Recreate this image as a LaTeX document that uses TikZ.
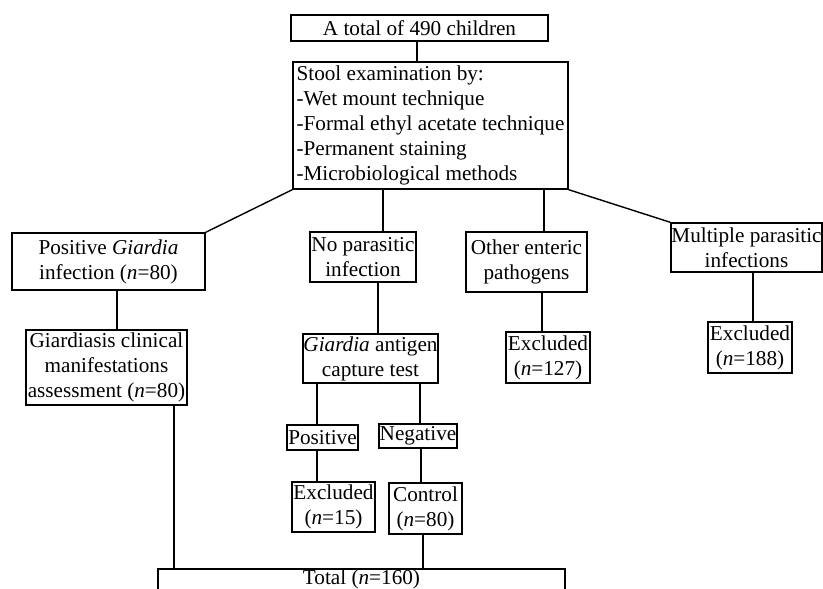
\documentclass[tikz,border=0pt]{standalone}
\usepackage{fontspec}
\setmainfont{Liberation Serif}
\usetikzlibrary{positioning}

\tikzset{
  box/.style={draw, line width=1.4pt, inner sep=0pt, align=center},
  link/.style={line width=1.4pt},
}

\begin{document}
\begin{tikzpicture}[x=1pt, y=-1pt, font=\fontsize{21.2}{25}\selectfont]
\useasboundingbox (0,0) rectangle (823,589);
%
\node[box, minimum width=257, minimum height=26] (tot) at (419.5,28) {A total of 490 children};
\node[box, minimum width=275, minimum height=127, align=left] (stool) at (430.5,125.5)
  {Stool examination by:\\-Wet mount technique\\-Formal ethyl acetate technique\\-Permanent staining\\-Microbiological methods};
%
\node[box, minimum width=193, minimum height=57] (pos) at (108.5,261.5) {Positive \textit{Giardia}\\infection (\textit{n}=80)};
\node[box, minimum width=106, minimum height=50] (nopar) at (363,257) {No parasitic\\infection};
\node[box, minimum width=121, minimum height=60] (other) at (526.5,262) {Other enteric\\pathogens};
\node[box, minimum width=151, minimum height=49] (multi) at (746.5,247.5) {Multiple parasitic\\infections};
%
\node[box, minimum width=161, minimum height=75] (clin) at (106.5,367.5) {Giardiasis clinical\\manifestations\\assessment (\textit{n}=80)};
\node[box, minimum width=135, minimum height=49] (antig) at (370.5,358.5) {\textit{Giardia} antigen\\capture test};
\node[box, minimum width=84, minimum height=51] (excla) at (548,357.5) {Excluded\\(\textit{n}=127)};
\node[box, minimum width=84, minimum height=51] (exclb) at (750,347.5) {Excluded\\(\textit{n}=188)};
%
\node[box, minimum width=71, minimum height=25] (apos) at (322.5,437.5) {Positive};
\node[box, minimum width=78, minimum height=24] (aneg) at (418,436) {Negative};
\node[box, minimum width=83, minimum height=50] (exclc) at (333.5,507) {Excluded\\(\textit{n}=15)};
\node[box, minimum width=73, minimum height=51] (ctrl) at (425.5,508.5) {Control\\(\textit{n}=80)};
\node[box, minimum width=407, minimum height=21] (total) at (361.5,579.5) {Total (\textit{n}=160)};

\draw[link] ([xshift=-2.5]tot.south) -- ([xshift=-2.5]tot.south |- stool.north);
\draw[link] (stool.south west) -- (pos.north east);
\draw[link] ([xshift=20]nopar.north) -- ([xshift=20]nopar.north |- stool.south);
\draw[link] ([xshift=17.5]other.north) -- ([xshift=17.5]other.north |- stool.south);
\draw[link] (stool.south east) -- (multi.north west);
%
\draw[link] ([xshift=8.5]pos.south) -- ([xshift=8.5]pos.south |- clin.north);
\draw[link] ([xshift=15]nopar.south) -- ([xshift=15]nopar.south |- antig.north);
\draw[link] ([xshift=15.5]other.south) -- ([xshift=15.5]other.south |- excla.north);
\draw[link] ([xshift=6.5]multi.south) -- ([xshift=6.5]multi.south |- exclb.north);
%
\draw[link] ([xshift=-5.5]apos.north) -- ([xshift=-5.5]apos.north |- antig.south);
\draw[link] ([xshift=2]aneg.north) -- ([xshift=2]aneg.north |- antig.south);
\draw[link] ([xshift=-5.5]apos.south) -- ([xshift=-5.5]apos.south |- exclc.north);
\draw[link] ([xshift=3]aneg.south) -- ([xshift=3]aneg.south |- ctrl.north);
%
\draw[link] ([xshift=67.5]clin.south) -- ([xshift=67.5]clin.south |- total.north);
\draw[link] ([xshift=-2.5]ctrl.south) -- ([xshift=-2.5]ctrl.south |- total.north);
\end{tikzpicture}
\end{document}
